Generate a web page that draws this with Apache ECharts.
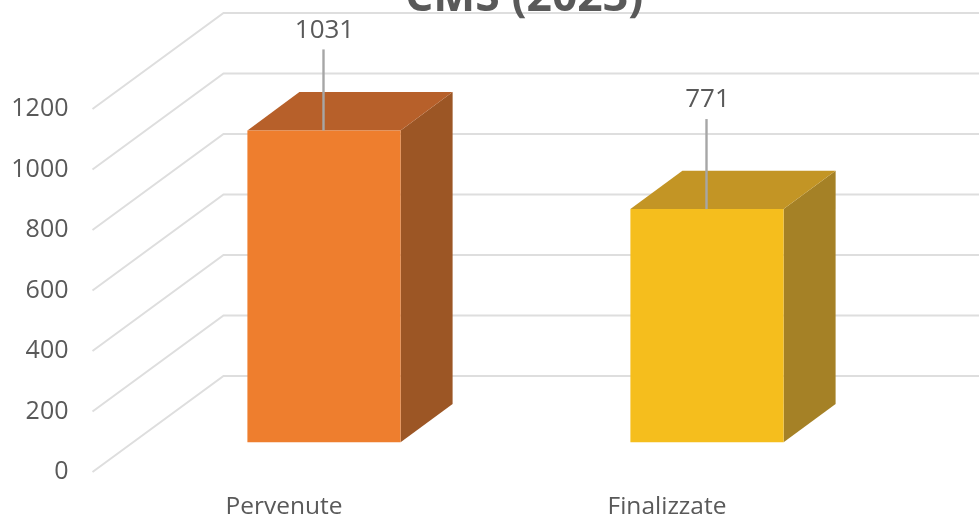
<!DOCTYPE html>
<html>
<head>
<meta charset="utf-8">
<title>CMS (2023)</title>
<script src="https://cdn.jsdelivr.net/npm/echarts@6/dist/echarts.min.js"></script>
<style>
    html, body { margin: 0; padding: 0; background: #fff; overflow: hidden; }
    #chart { width: 979px; height: 519px; }
</style>
</head>
<body>
<div id="chart"></div>
<script>
// valori
var categories = ['Pervenute', 'Finalizzate'];
var values = [1031, 771];
var yTicks = [0, 200, 400, 600, 800, 1000, 1200];

var titleText = 'CMS (2023)';

// effetto 3D: spostamento in pixel verso il fondo
var wallDepth = [131, -96];
var barNear = [40, -29.7];
var barFar = [92, -68];
var leaderLength = [81, 90];

var frontColors = ['#EE7E2E', '#F5BE1D'];
var topColors = ['#B7602A', '#C39525'];
var sideColors = ['#9C5625', '#A58126'];

var fontName = '"Open Sans", "Noto Sans", sans-serif';
var textColor = '#595959';

var dom = document.getElementById('chart');
var chart = echarts.init(dom);

function shift(p, d) {
    return [p[0] + d[0], p[1] + d[1]];
}

// pareti: diagonale laterale + linea di fondo per ogni tick
function renderWall(params, api) {
    var cs = params.coordSys;
    var y = api.coord([0, api.value(0)])[1];
    var left = [cs.x, y];
    var corner = shift(left, wallDepth);
    var style = { stroke: '#DEDEDE', lineWidth: 2, fill: null };
    return {
        type: 'group',
        children: [
            { type: 'polyline', shape: { points: [left, corner, [cs.x + cs.width + wallDepth[0], corner[1]]] }, style: style }
        ]
    };
}

// barra: faccia frontale, superiore, laterale, linea guida ed etichetta
function renderBar(params, api) {
    var i = api.value(0);
    var v = api.value(1);
    var w = api.size([1, 0])[0] * 0.4;
    var base = shift(api.coord([i, 0]), barNear);
    var head = shift(api.coord([i, v]), barNear);
    var bl = [base[0] - w / 2, base[1]];
    var br = [base[0] + w / 2, base[1]];
    var tl = [head[0] - w / 2, head[1]];
    var tr = [head[0] + w / 2, head[1]];
    var back = [barFar[0] - barNear[0], barFar[1] - barNear[1]];
    var lift = leaderLength[i];
    return {
        type: 'group',
        children: [
            { type: 'polygon', shape: { points: [br, tr, shift(tr, back), shift(br, back)] }, style: { fill: sideColors[i] } },
            { type: 'polygon', shape: { points: [tl, tr, shift(tr, back), shift(tl, back)] }, style: { fill: topColors[i] } },
            { type: 'polygon', shape: { points: [bl, br, tr, tl] }, style: { fill: frontColors[i] } },
            { type: 'line', shape: { x1: head[0] - 0.5, y1: head[1], x2: head[0] - 0.5, y2: head[1] - lift }, style: { stroke: '#A6A6A6', lineWidth: 2.4 } },
            {
                type: 'text',
                style: {
                    x: head[0] + 0.5,
                    y: head[1] - lift - 19,
                    text: String(v),
                    fill: textColor,
                    font: '26px ' + fontName,
                    textAlign: 'center',
                    textVerticalAlign: 'middle'
                }
            }
        ]
    };
}

var option = {
    animation: false,
    backgroundColor: '#fff',
    title: {
        text: titleText,
        left: 405,
        top: -24,
        padding: 0,
        textStyle: { fontFamily: fontName, fontSize: 44.5, fontWeight: 'bold', color: textColor }
    },
    grid: { left: 92.5, top: 109, width: 766, height: 363, outerBoundsMode: 'none' },
    xAxis: {
        type: 'category',
        data: categories,
        axisLine: { show: false },
        axisTick: { show: false },
        axisLabel: { margin: 23, color: textColor, fontSize: 24.5, fontFamily: fontName }
    },
    yAxis: {
        type: 'value',
        min: 0,
        max: yTicks[yTicks.length - 1],
        interval: 200,
        axisLine: { show: false },
        axisTick: { show: false },
        splitLine: { show: false },
        axisLabel: {
            margin: 24,
            lineHeight: 30,
            padding: [4, 0, 0, 0],
            color: textColor,
            fontSize: 25,
            fontFamily: fontName,
            formatter: function (val) { return String(val); }
        }
    },
    series: [
        {
            type: 'custom',
            silent: true,
            z: 1,
            clip: false,
            renderItem: renderWall,
            encode: { y: 0 },
            data: yTicks.map(function (t) { return [t]; })
        },
        {
            type: 'custom',
            z: 2,
            clip: false,
            renderItem: renderBar,
            encode: { x: 0, y: 1 },
            data: values.map(function (v, i) { return [i, v]; })
        }
    ]
};
chart.setOption(option);
window.addEventListener('resize', function () {
    chart.resize();
});
</script>
</body>
</html>
